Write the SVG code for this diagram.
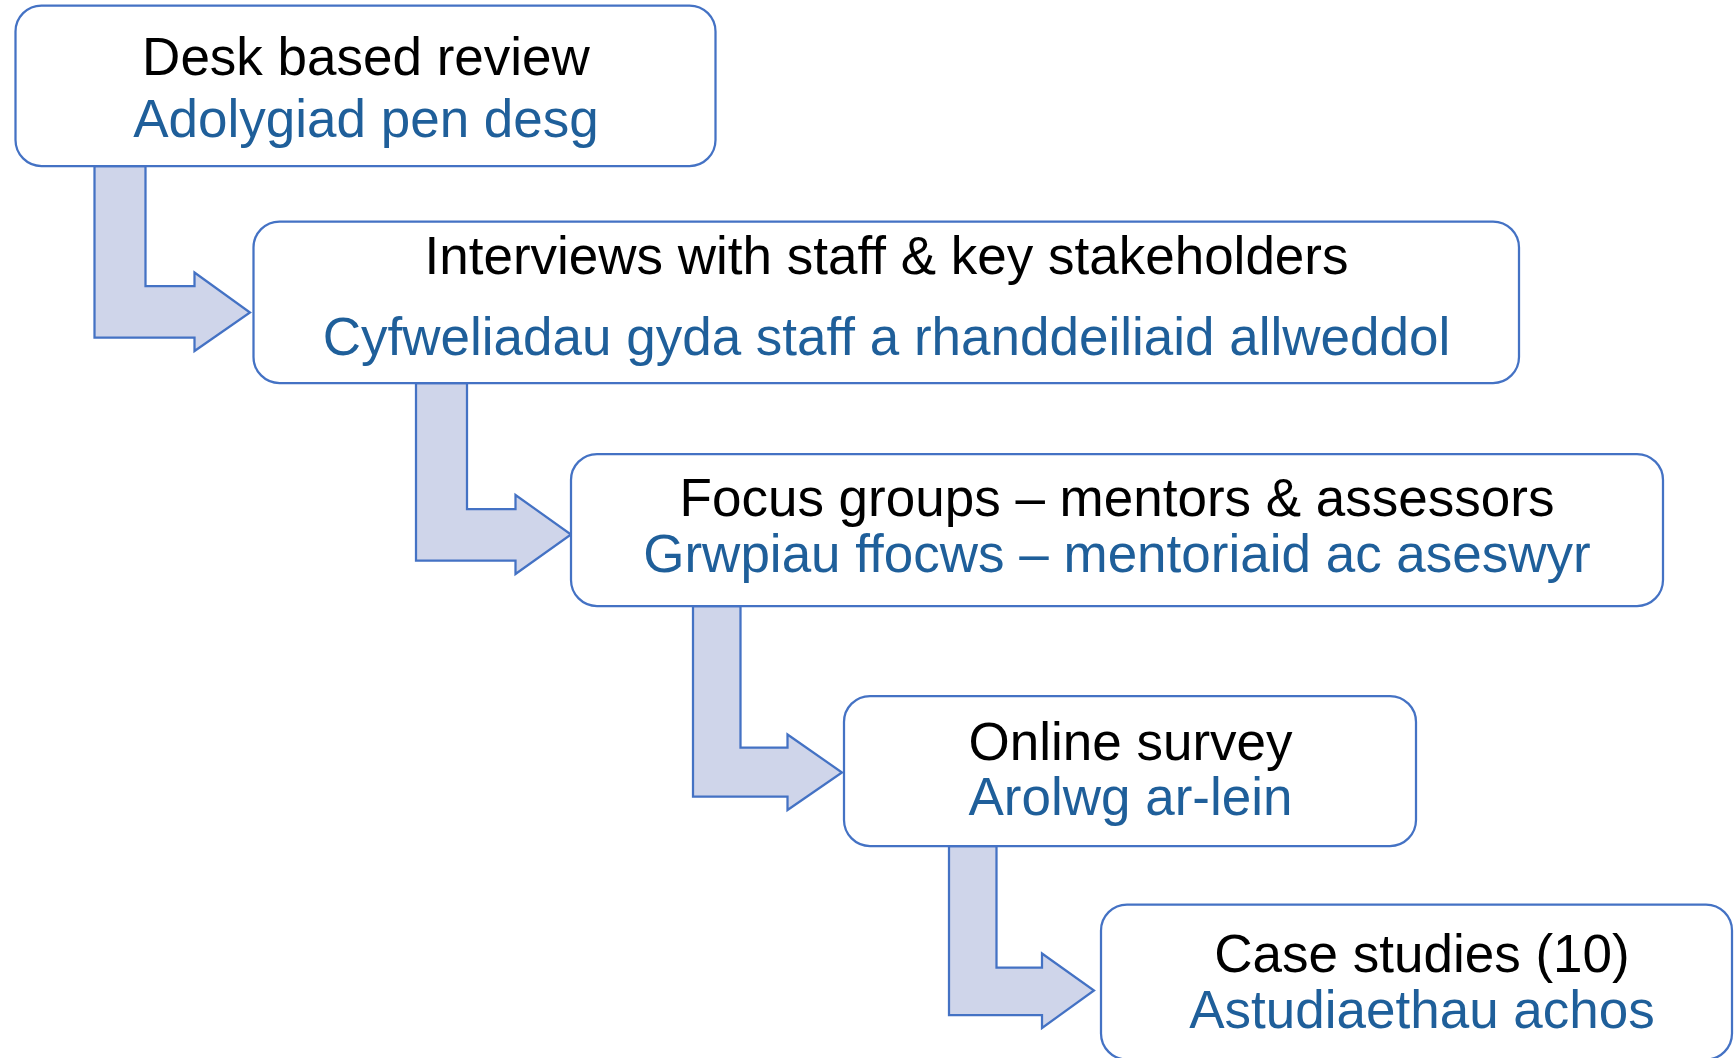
<svg xmlns="http://www.w3.org/2000/svg" width="1734" height="1058" viewBox="0 0 1734 1058">
<style>
.box{fill:#FFFFFF;stroke:#4472C4;stroke-width:2.25}
.arr{fill:#CFD5EA;stroke:#4472C4;stroke-width:2.25;stroke-linejoin:miter}
text{font-family:"Liberation Sans",Arial,sans-serif;font-size:53px;text-anchor:middle}
.en{fill:#000000}
.cy{fill:#1F5F9A}
</style>
<rect width="1734" height="1058" fill="#FFFFFF"/>
<g id="connectors">
<polygon class="arr" points="94.5,166 145.5,166 145.5,286 194.5,286 194.5,272.5 250,312.5 194.5,351 194.5,337.5 94.5,337.5"/>
<polygon class="arr" points="416,383 467,383 467,509 515.5,509 515.5,495 571,534.5 515.5,574 515.5,560.5 416,560.5"/>
<polygon class="arr" points="693,606 740.5,606 740.5,747.5 787.5,747.5 787.5,734.5 842,772.5 787.5,810 787.5,796.5 693,796.5"/>
<polygon class="arr" points="949,846 996.5,846 996.5,967.5 1042,967.5 1042,953.5 1094,990.5 1042,1028 1042,1015 949,1015"/>
</g>
<g id="node-desk">
<rect class="box" x="15.5" y="5.5" width="700" height="160.5" rx="26" ry="26"/>
<text class="en" x="366" y="75">Desk based review</text>
<text class="cy" x="366" y="137">Adolygiad pen desg</text>
</g>
<g id="node-interviews">
<rect class="box" x="253.5" y="221.5" width="1265.5" height="161.5" rx="26" ry="26"/>
<text class="en" x="886.5" y="274">Interviews with staff &amp; key stakeholders</text>
<text class="cy" x="886.5" y="355">Cyfweliadau gyda staff a rhanddeiliaid allweddol</text>
</g>
<g id="node-focus">
<rect class="box" x="571" y="454" width="1092" height="152" rx="26" ry="26"/>
<text class="en" x="1117" y="516">Focus groups – mentors &amp; assessors</text>
<text class="cy" x="1117" y="572">Grwpiau ffocws – mentoriaid ac aseswyr</text>
</g>
<g id="node-survey">
<rect class="box" x="844" y="696" width="572" height="150" rx="26" ry="26"/>
<text class="en" x="1130.5" y="760">Online survey</text>
<text class="cy" x="1130.5" y="815">Arolwg ar-lein</text>
</g>
<g id="node-case">
<rect class="box" x="1101" y="904.5" width="631" height="155" rx="26" ry="26"/>
<text class="en" x="1422" y="971.5">Case studies (10)</text>
<text class="cy" x="1422" y="1027.5">Astudiaethau achos</text>
</g>
</svg>
